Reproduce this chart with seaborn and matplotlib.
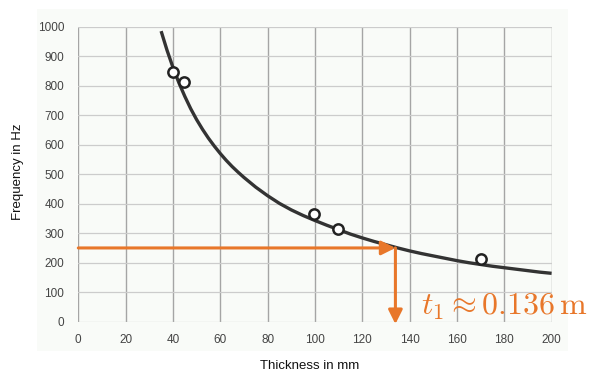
import matplotlib
matplotlib.use("Agg")
import matplotlib.pyplot as plt
import seaborn as sns
import pandas as pd

# Measured points (thickness in mm, frequency in Hz)
meas_t = [40.2, 44.8, 99.6, 109.9, 170.2]
meas_f = [845, 814, 364, 314, 211]

# Fitted curve
curve_t = [35, 37.5, 40, 42.5, 45, 47.5, 50, 52.5, 55, 57.5, 60, 62.5, 65, 67.5, 70,
           75, 80, 85, 90, 95, 100, 105, 110, 115, 120, 125, 130, 135, 140, 145, 150,
           155, 160, 165, 170, 175, 180, 185, 190, 195, 200]
curve_f = [985, 920, 862, 810, 764, 722, 685, 652, 622, 595, 570, 547, 526, 507, 489,
           456, 427, 401, 379, 360, 343, 327, 312, 297, 284, 272, 261, 250, 240, 231, 223,
           215, 207, 200, 194, 188, 183, 178, 173, 168, 164]

# Read-off annotation
target_f = 250
t1_mm = 134
x_ticks = [0, 20, 40, 60, 80, 100, 120, 140, 160, 180, 200]
y_ticks = [0, 100, 200, 300, 400, 500, 600, 700, 800, 900, 1000]
x_label = "Thickness in mm"
y_label = "Frequency in Hz"
annot = r"$t_1 \approx 0.136\,\mathrm{m}$"

sns.set_theme(style="white")
plt.rcParams["font.family"] = ["Liberation Sans", "DejaVu Sans"]
plt.rcParams["mathtext.fontset"] = "cm"

W, H = 592, 372
fig = plt.figure(figsize=(W / 100, H / 100), dpi=100)
fig.patch.set_facecolor("white")

# faint scanned-paper background panel
bg = fig.add_axes([37 / W, 1 - 351 / H, (568 - 37) / W, (351 - 9) / H], zorder=0)
bg.set_facecolor("#f9fbf8")
bg.set_xticks([])
bg.set_yticks([])
for s in bg.spines.values():
    s.set_visible(False)

ax = fig.add_axes([78.3 / W, 1 - 321.7 / H, (551.6 - 78.3) / W, (321.7 - 26.7) / H], zorder=1)
ax.set_facecolor("none")

curve_df = pd.DataFrame({"t": curve_t, "f": curve_f})
meas_df = pd.DataFrame({"t": meas_t, "f": meas_f})

sns.lineplot(data=curve_df, x="t", y="f", ax=ax, color="#333333", linewidth=2.4, zorder=3,
             solid_capstyle="butt")
sns.scatterplot(data=meas_df, x="t", y="f", ax=ax, s=55, facecolor="white",
                edgecolor="#222222", linewidth=1.8, zorder=4)

orange = "#E8772A"
ax.annotate("", xy=(t1_mm, target_f), xytext=(0, target_f),
            arrowprops=dict(arrowstyle="-|>,head_length=0.7,head_width=0.35", color=orange,
                            lw=2.2, shrinkA=0, shrinkB=0), zorder=5, annotation_clip=False)
ax.annotate("", xy=(t1_mm, -8), xytext=(t1_mm, target_f),
            arrowprops=dict(arrowstyle="-|>,head_length=0.7,head_width=0.35", color=orange,
                            lw=2.2, shrinkA=0, shrinkB=0), zorder=5, annotation_clip=False)
ax.text(145, 24, annot, color=orange, fontsize=23, ha="left", va="baseline", zorder=6)

ax.set_xlim(0, 200)
ax.set_ylim(0, 1000)
ax.set_xticks(x_ticks)
ax.set_yticks(y_ticks)
for s in ax.spines.values():
    s.set_visible(False)
ax.xaxis.grid(True, color="#a5a5a5", linewidth=1.0)
ax.yaxis.grid(True, color="#cccccc", linewidth=0.9)
ax.set_axisbelow(True)
ax.tick_params(axis="both", labelsize=8.5, labelcolor="#444444", length=3, color="#a5a5a5",
               width=0.8, pad=2)
ax.tick_params(axis="y", length=0, pad=10)
ax.tick_params(axis="x", pad=6)
ax.set_xlabel(x_label, fontsize=9.5, color="#111111")
ax.set_ylabel(y_label, fontsize=9.5, color="#111111")
ax.xaxis.set_label_coords((310 - 78.3) / 473.3, (321.7 - 366) / 295)
ax.yaxis.set_label_coords((18 - 78.3) / 473.3, (321.7 - 172) / 295)
ax.xaxis.label.set_va("center")
ax.yaxis.label.set_va("center")

fig.savefig("out.png", dpi=100, facecolor="white")
